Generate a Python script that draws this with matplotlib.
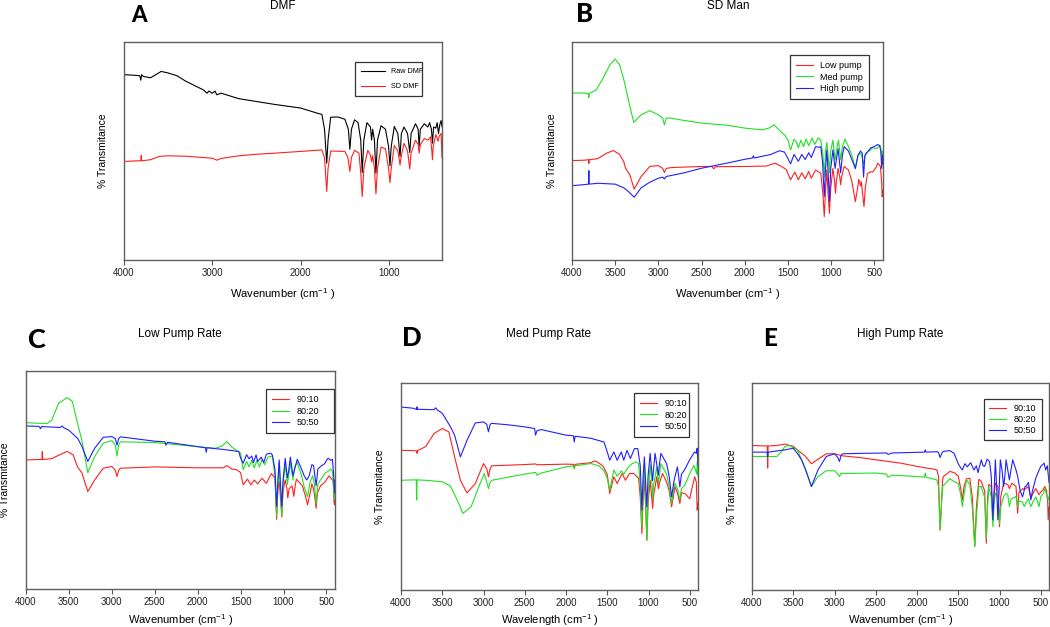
import matplotlib.pyplot as plt

# Spectra: (wavenumber, relative transmittance 0-100 of panel height)
raw_dmf = [(4000, 85), (3900, 84.8), (3820, 84.5), (3810, 82.5), (3800, 85), (3780, 84.2), (3700, 83.6),
           (3640, 85), (3580, 86.5), (3500, 85.8), (3400, 84.5), (3300, 82), (3200, 80), (3100, 78),
           (3060, 76.5), (3040, 77.5), (3000, 76.5), (2970, 77.5), (2950, 75.8), (2900, 76.5), (2700, 74),
           (2500, 72.7), (2300, 71.4), (2000, 69.7), (1800, 67.2), (1760, 66.8), (1730, 60), (1705, 44.4),
           (1690, 55), (1660, 65.5), (1580, 65.6), (1500, 64.6), (1460, 60), (1443, 50.8), (1425, 60),
           (1390, 64.3), (1350, 63), (1320, 55), (1303, 40.1), (1285, 55), (1250, 63), (1210, 61),
           (1197, 55), (1185, 60), (1165, 55), (1148, 39.8), (1130, 55), (1090, 61.6), (1040, 60),
           (1005, 52), (989, 43.2), (975, 52), (940, 61.3), (900, 58), (875, 47.5), (860, 58), (830, 61),
           (790, 58), (765, 49.3), (750, 58), (700, 62.5), (670, 60), (659, 52), (645, 60), (600, 62.5),
           (560, 61), (540, 63), (520, 60), (508, 53.6), (495, 61), (470, 60.5), (455, 63), (440, 58),
           (425, 62), (410, 64), (400, 61)]
sd_dmf = [(4000, 45.2), (3850, 45.5), (3810, 45.5), (3805, 48), (3800, 45.5), (3700, 46), (3600, 47.5),
          (3500, 47.8), (3300, 47.6), (3100, 47), (3000, 46.7), (2950, 45.8), (2900, 46.6), (2700, 47.8),
          (2500, 48.5), (2300, 49), (2000, 49.8), (1760, 50.5), (1730, 47), (1705, 31.4), (1690, 42),
          (1660, 50), (1500, 49.8), (1465, 47), (1443, 40.6), (1425, 47), (1390, 50.3), (1340, 49),
          (1320, 40), (1303, 29.1), (1285, 42), (1240, 50.3), (1210, 48), (1197, 45), (1185, 48),
          (1165, 42), (1148, 30.3), (1130, 42), (1090, 51.8), (1040, 51), (1005, 42), (989, 35.5),
          (975, 42), (940, 52.5), (900, 50), (875, 43.6), (860, 48), (830, 53.5), (790, 50), (765, 41.8),
          (750, 49), (700, 55), (670, 53), (659, 49), (645, 53), (600, 55.7), (560, 55), (530, 56.5),
          (515, 50), (508, 46), (500, 52), (470, 57.5), (455, 56), (445, 54.5), (430, 57), (410, 58),
          (400, 47)]

man_low = [(4000, 45.6), (3850, 45.8), (3810, 46), (3805, 44.3), (3800, 46), (3700, 46.5), (3600, 49),
           (3520, 50.2), (3450, 48.5), (3400, 45), (3380, 42.1), (3330, 39), (3280, 32.5), (3200, 38.3),
           (3100, 42.9), (3000, 43.3), (2950, 42), (2930, 40.1), (2910, 42), (2850, 42.4), (2500, 42.9),
           (2380, 42.9), (2360, 41.8), (2340, 42.8), (2000, 42.9), (1750, 43.1), (1650, 44.4), (1580, 43),
           (1520, 41.5), (1470, 36.8), (1420, 40.3), (1380, 36.8), (1340, 40), (1300, 37.2), (1260, 40.6),
           (1230, 37.5), (1180, 41.3), (1120, 39.8), (1095, 30), (1080, 19.9), (1065, 32), (1050, 41.3),
           (1035, 30), (1020, 21.4), (1005, 33), (980, 42), (960, 36), (950, 30.6), (940, 36), (920, 42),
           (900, 38), (890, 34.5), (880, 38), (850, 42.9), (800, 41.3), (760, 36), (720, 26.8), (690, 34),
           (680, 37), (660, 34), (650, 35.9), (635, 30), (620, 24.5), (605, 33), (580, 39.6), (540, 40.5),
           (520, 40.3), (480, 42.5), (460, 44.4), (430, 43), (415, 35), (410, 29), (400, 32)]
man_med = [(4000, 76.6), (3850, 76.6), (3810, 76.2), (3805, 74.5), (3800, 76.4), (3720, 78), (3650, 82.7),
           (3560, 89.6), (3500, 92.2), (3450, 89.6), (3400, 82.7), (3330, 70.4), (3285, 63.1), (3200, 66.6),
           (3100, 68.5), (3000, 66.6), (2950, 65), (2930, 62), (2910, 65), (2880, 65.2), (2700, 64),
           (2500, 62.8), (2200, 61.8), (2000, 60.5), (1800, 59.7), (1720, 60.5), (1660, 62), (1600, 59.5),
           (1540, 57.4), (1500, 55.1), (1470, 50.5), (1430, 55.4), (1400, 54), (1380, 51.5), (1350, 55),
           (1320, 52), (1290, 55.5), (1260, 52.5), (1220, 56), (1190, 53), (1150, 56), (1120, 55),
           (1095, 48), (1080, 38), (1065, 50), (1050, 54), (1035, 48), (1020, 40), (1005, 50), (980, 55),
           (955, 46), (940, 50), (915, 55), (890, 46), (870, 52), (840, 55.5), (800, 52), (760, 48),
           (720, 42), (690, 48), (660, 49), (640, 47), (625, 44), (600, 49), (560, 50), (520, 51.5),
           (480, 51), (450, 52), (430, 52.5), (415, 47), (405, 50), (400, 45)]
man_high = [(4000, 34.1), (3850, 34.6), (3810, 34.8), (3805, 41), (3800, 34.8), (3700, 35.2), (3500, 34.8),
            (3400, 33.1), (3350, 31.5), (3280, 28.8), (3200, 33.1), (3100, 35.7), (3000, 37.5), (2950, 38),
            (2930, 37.2), (2910, 38.3), (2700, 40), (2500, 42.1), (2200, 44.5), (2000, 46.2), (1910, 46.8),
            (1900, 47.8), (1890, 46.8), (1700, 48.4), (1600, 50.1), (1540, 49.5), (1500, 46.5), (1470, 44.1),
            (1430, 48.4), (1380, 45.3), (1340, 48.4), (1300, 46.1), (1260, 49.2), (1230, 47), (1180, 52),
            (1140, 51.7), (1120, 52), (1100, 45), (1080, 29.1), (1065, 42), (1050, 50.5), (1035, 40),
            (1020, 27), (1005, 42), (980, 50.5), (955, 42), (940, 46), (920, 51), (890, 40), (870, 48),
            (850, 52), (800, 50), (760, 46), (720, 42), (690, 48), (660, 50), (640, 49), (625, 38),
            (610, 48), (580, 49.5), (540, 51.5), (500, 52), (460, 53), (440, 52.5), (425, 50), (415, 42),
            (405, 48), (400, 44)]

low_9010 = [(4000, 59.2), (3850, 59.4), (3815, 59.4), (3810, 63), (3805, 59.4), (3700, 59.8), (3600, 61.7),
            (3520, 63.1), (3450, 61.5), (3400, 56), (3350, 53.4), (3280, 44.7), (3200, 50), (3100, 55.4),
            (3000, 56.2), (2960, 54.5), (2940, 51.6), (2920, 54.5), (2900, 55.4), (2500, 56), (2000, 55.6),
            (1700, 55.6), (1660, 56.6), (1600, 55), (1550, 54.8), (1500, 53.4), (1470, 47.8), (1420, 50.4),
            (1380, 47.8), (1340, 50), (1300, 48.2), (1250, 50.8), (1200, 48.5), (1140, 53), (1100, 50.8),
            (1080, 32), (1065, 46), (1050, 49.3), (1035, 42), (1020, 33), (1005, 45), (980, 50), (960, 46),
            (950, 41.7), (935, 46), (900, 47.3), (880, 42.5), (865, 47), (850, 50.4), (780, 47.3), (740, 42),
            (720, 38.6), (690, 44), (670, 48.2), (650, 46), (635, 42), (620, 37), (605, 44), (570, 47.3),
            (520, 48.9), (470, 51.9), (430, 50), (420, 49.6), (412, 40), (405, 38.6), (400, 43)]
low_8020 = [(4000, 76.3), (3850, 76), (3750, 76), (3700, 77.5), (3620, 85.2), (3520, 87.8), (3460, 86),
            (3400, 76), (3350, 68.4), (3280, 53.4), (3200, 60.8), (3100, 66.9), (3000, 68.1), (2960, 66),
            (2940, 61), (2920, 66), (2900, 67.5), (2500, 67.2), (2000, 65.3), (1800, 64.5), (1720, 65.5),
            (1660, 67.6), (1600, 65), (1540, 63.5), (1500, 62.3), (1470, 54.7), (1430, 58.5), (1400, 56),
            (1370, 59), (1340, 55.5), (1310, 59), (1280, 56), (1250, 59.5), (1220, 57), (1180, 60.5),
            (1130, 61), (1100, 52), (1080, 33.3), (1065, 48), (1050, 58), (1035, 45), (1020, 33.5),
            (1005, 48), (980, 57), (955, 48), (940, 52), (920, 58), (890, 50), (870, 56), (840, 58),
            (790, 52), (760, 47), (720, 42.4), (690, 49), (660, 52), (640, 48), (620, 39), (600, 48),
            (570, 50), (550, 51), (520, 53), (480, 54), (450, 55), (430, 54), (415, 45), (405, 41), (400, 43)]
low_5050 = [(4000, 74.8), (3850, 74.6), (3830, 73.5), (3820, 74.5), (3600, 74.1), (3580, 74.8), (3560, 74),
            (3500, 72.8), (3400, 69.2), (3350, 65.6), (3280, 58.5), (3200, 64.6), (3100, 69.6), (3000, 69.9),
            (2960, 69), (2940, 66), (2920, 69), (2900, 69.8), (2500, 67.8), (2380, 67.5), (2370, 66),
            (2350, 67.3), (2000, 65.3), (1910, 64.8), (1900, 62.7), (1890, 64.8), (1700, 64), (1600, 63.5),
            (1520, 63), (1500, 60), (1470, 57.7), (1430, 61.6), (1400, 59.7), (1370, 61), (1350, 58),
            (1320, 61.5), (1300, 58.5), (1260, 60.5), (1230, 58), (1200, 61.8), (1150, 62.3), (1130, 61.5),
            (1100, 55), (1080, 37.9), (1065, 50), (1050, 59.2), (1035, 48), (1020, 37.9), (1005, 50),
            (980, 59.9), (955, 51), (940, 54), (920, 60.5), (890, 52), (870, 55), (840, 59.5), (800, 56),
            (760, 52), (730, 50), (700, 52), (670, 57), (650, 56.7), (635, 52), (620, 47.3), (600, 55),
            (560, 56.5), (520, 57.5), (500, 59), (480, 60), (450, 59), (430, 59.5), (415, 52), (405, 44),
            (400, 50)]

med_9010 = [(4000, 67.5), (3850, 67.3), (3810, 67.2), (3805, 66), (3800, 67.3), (3700, 69.3), (3600, 75.6),
            (3500, 78), (3420, 76.4), (3350, 64.3), (3280, 53), (3200, 46.9), (3100, 51.4), (3000, 61.1),
            (2960, 58.5), (2940, 54.7), (2920, 58.5), (2900, 60), (2500, 60.6), (2370, 60.9), (2350, 60.5),
            (2000, 60.8), (1910, 60.7), (1900, 59), (1890, 60.7), (1700, 61.5), (1650, 62.4), (1600, 61.3),
            (1550, 59.8), (1500, 55.8), (1470, 46.6), (1420, 54.7), (1380, 51.4), (1320, 56.3), (1280, 53),
            (1230, 56.3), (1180, 56.3), (1120, 54), (1100, 45), (1080, 27.3), (1065, 45), (1050, 53),
            (1035, 40), (1020, 24.1), (1005, 42), (980, 53), (955, 42), (950, 39.5), (940, 45), (900, 54.7),
            (880, 49), (865, 52), (830, 56.3), (780, 52), (750, 48), (720, 40.2), (690, 47), (680, 50),
            (650, 47), (620, 41.8), (600, 47), (560, 46.6), (500, 44.1), (480, 48), (440, 54.7), (420, 52),
            (410, 38.6), (400, 42)]
med_8020 = [(4000, 53), (3850, 53.2), (3815, 53.2), (3810, 43.5), (3805, 53.2), (3700, 53), (3500, 52.3),
            (3400, 50.2), (3300, 41.8), (3250, 37), (3150, 40.2), (3050, 50.6), (2990, 56.3), (2960, 52),
            (2940, 49), (2920, 52), (2900, 53), (2700, 54.5), (2500, 56), (2370, 56.8), (2350, 55.5),
            (2300, 56.5), (2000, 59.5), (1910, 60), (1900, 58.5), (1890, 60), (1700, 61.1), (1600, 60),
            (1540, 57.5), (1500, 54), (1470, 48.2), (1420, 58), (1380, 55), (1330, 57.5), (1300, 56),
            (1250, 59), (1200, 61), (1150, 61.9), (1120, 61), (1100, 50), (1080, 30.5), (1065, 48),
            (1050, 59.5), (1035, 45), (1020, 24.1), (1005, 45), (980, 60.5), (955, 50), (950, 43.7),
            (940, 50), (900, 59.5), (880, 51.5), (865, 56), (850, 61), (780, 56), (750, 50), (720, 41.8),
            (690, 50), (680, 51.5), (650, 49), (620, 43.7), (600, 49), (560, 50.6), (500, 56.2), (450, 60.2),
            (430, 58), (415, 56), (410, 62), (400, 55)]
med_5050 = [(4000, 88.4), (3850, 87.8), (3810, 87.2), (3805, 88.5), (3800, 87.3), (3600, 87.1), (3580, 88),
            (3560, 87), (3500, 85.4), (3400, 78.8), (3350, 74.8), (3280, 64.3), (3200, 72.3), (3100, 80.7),
            (3000, 81.2), (2960, 80), (2940, 76.4), (2920, 80), (2900, 80.5), (2700, 79.8), (2500, 78.8),
            (2380, 78), (2370, 74.8), (2350, 77), (2300, 77.5), (2000, 74.8), (1910, 74.5), (1900, 71.5),
            (1890, 74.3), (1700, 73.3), (1540, 71.5), (1500, 66.7), (1470, 62.7), (1420, 66.7), (1380, 62.7),
            (1330, 66.7), (1300, 62.7), (1260, 67.5), (1220, 63.5), (1170, 68.3), (1130, 68.3), (1100, 60),
            (1080, 38.6), (1065, 55), (1050, 64.3), (1035, 52), (1020, 40.2), (1005, 55), (980, 66),
            (955, 55), (950, 53), (940, 58), (920, 66), (890, 58), (880, 55.5), (870, 60), (850, 66),
            (780, 61), (750, 55), (720, 45), (690, 53), (650, 59.5), (635, 55), (620, 49.8), (600, 56),
            (560, 58.2), (500, 63), (440, 66.7), (420, 66), (410, 68.5), (400, 60)]

high_9010 = [(4000, 69.8), (3850, 69.6), (3815, 69.6), (3810, 58.9), (3805, 69.6), (3700, 69.8), (3600, 70.5),
             (3500, 69.4), (3400, 66.1), (3350, 64.5), (3280, 61), (3200, 63.2), (3100, 65.8), (3000, 65.8),
             (2900, 64.8), (2700, 64), (2500, 62.9), (2200, 61.3), (2000, 59.7), (1800, 58.4), (1760, 58),
             (1740, 55), (1720, 29), (1705, 40), (1690, 53), (1680, 54.8), (1600, 57.3), (1540, 56.5),
             (1500, 55), (1470, 49), (1450, 43.5), (1430, 50), (1400, 53.7), (1360, 54), (1330, 45),
             (1300, 21), (1280, 40), (1250, 53.5), (1220, 52.5), (1200, 50), (1180, 48), (1160, 22.6),
             (1145, 44), (1130, 51), (1100, 50), (1080, 33.9), (1065, 46), (1050, 51.6), (1020, 50),
             (1000, 30.6), (985, 45), (950, 51.6), (900, 51), (880, 49), (850, 51.6), (800, 50), (780, 37),
             (765, 47), (720, 49), (700, 48.5), (680, 49), (650, 50), (620, 44.4), (590, 47), (560, 49),
             (520, 46), (500, 47.3), (470, 48.5), (450, 50), (430, 48), (415, 42), (410, 33.9), (400, 40)]
high_8020 = [(4000, 64.5), (3850, 64.5), (3815, 64.5), (3810, 66.5), (3805, 64.5), (3700, 64.5), (3650, 66.5),
             (3600, 69.4), (3550, 69.8), (3450, 67.7), (3380, 61.3), (3330, 56), (3280, 50), (3200, 54.8),
             (3100, 57.6), (3000, 57.6), (2960, 56), (2940, 54.8), (2920, 56.5), (2900, 56.3), (2500, 56.5),
             (2370, 56), (2350, 54.5), (2300, 55.5), (2000, 54.8), (1910, 54.5), (1900, 56.5), (1890, 54.5),
             (1760, 53.2), (1740, 50), (1720, 29), (1705, 40), (1690, 50), (1680, 50.5), (1600, 53.8),
             (1540, 52), (1500, 51.6), (1470, 46), (1450, 40.3), (1430, 46), (1400, 53.2), (1360, 51),
             (1330, 40), (1300, 21), (1280, 35), (1250, 50), (1220, 50), (1200, 47), (1180, 45), (1160, 25),
             (1145, 40), (1130, 50), (1100, 45), (1080, 30.6), (1065, 42), (1050, 46.8), (1020, 45),
             (1000, 32), (985, 40), (950, 45.2), (920, 46.8), (900, 46), (880, 40.3), (860, 44), (800, 45.2),
             (780, 40.3), (765, 43), (720, 42.5), (700, 40.3), (680, 42), (650, 44), (620, 40.3), (590, 43),
             (560, 45), (520, 40.3), (500, 45), (470, 46.5), (450, 49), (430, 46), (410, 43.5), (400, 45)]
high_5050 = [(4000, 66.6), (3850, 66.6), (3815, 66.6), (3810, 64.5), (3805, 66.6), (3600, 67.7), (3500, 68.5),
             (3450, 66), (3400, 62.9), (3350, 58), (3280, 50), (3200, 58), (3100, 64.5), (3000, 65.8),
             (2960, 64), (2940, 62.1), (2920, 65), (2900, 65.8), (2700, 66), (2500, 66.1), (2370, 66.2),
             (2350, 65.5), (2300, 66.2), (2000, 66.5), (1910, 66.6), (1900, 67.7), (1890, 66.6), (1760, 66.8),
             (1740, 66.5), (1720, 64), (1700, 66), (1680, 67), (1600, 67.3), (1550, 66), (1500, 61),
             (1470, 59), (1450, 58), (1420, 61), (1390, 59.5), (1350, 61.5), (1310, 58), (1280, 60),
             (1260, 56.7), (1240, 60), (1220, 62.9), (1200, 60), (1180, 59.7), (1150, 63.2), (1120, 62),
             (1100, 55), (1080, 33.9), (1065, 48), (1050, 62.9), (1035, 50), (1020, 33.9), (1005, 48),
             (990, 62.9), (970, 58), (950, 50), (935, 55), (920, 62.9), (900, 58), (880, 53.2), (865, 57),
             (840, 62.9), (800, 58), (780, 55), (750, 48), (720, 45), (690, 50), (680, 50), (650, 52),
             (620, 43.5), (600, 48), (560, 54), (530, 57), (500, 59.7), (480, 60.5), (460, 61.3), (440, 58),
             (420, 60), (410, 56), (400, 52)]

RED, GREEN, BLUE = '#ff2020', '#22e022', '#2020ff'
W, H = 1050, 627

plt.rcParams['font.family'] = ['Liberation Sans', 'DejaVu Sans']
plt.rcParams['mathtext.fontset'] = 'custom'
plt.rcParams['mathtext.rm'] = 'Liberation Sans'
plt.rcParams['mathtext.it'] = 'Liberation Sans'

fig = plt.figure(figsize=(10.5, 6.27), dpi=100)


def panel(px, letter, lsize, lpos, title, tpos, series, xlabel, ticks, leg, ylab_x, xlab_y,
          legsize=6.5, legpad=0.65, legspace=0.3, handlelen=1.9):
    x0, y0, x1, y1 = px
    ax = fig.add_axes([x0 / W, 1 - y1 / H, (x1 - x0) / W, (y1 - y0) / H])
    for data, color, label in series:
        wn, t = zip(*data)
        ax.plot(wn, t, color=color, lw=0.8, label=label)
    ax.set_xlim(4000, 400)
    ax.set_ylim(0, 100)
    ax.set_xticks(ticks)
    ax.set_yticks([])
    ax.tick_params(axis='x', direction='out', length=3.5, width=0.8, color='#555555',
                   labelsize=7, labelcolor='#222222', pad=2)
    for s in ax.spines.values():
        s.set_color('#606060')
        s.set_linewidth(1.0)
    ax.set_xlabel(xlabel, fontsize=8)
    ax.set_ylabel('% Transmitance', fontsize=7.5)
    ax.xaxis.set_label_coords(0.5, xlab_y)
    ax.yaxis.set_label_coords(ylab_x, 0.5)
    lx, ltop, lw = leg
    lg = ax.legend(loc='upper left', bbox_to_anchor=(lx, ltop - 0.1, lw, 0.1), mode='expand',
                   borderaxespad=0, fontsize=legsize, fancybox=False, framealpha=1,
                   edgecolor='#333333', handlelength=handlelen, borderpad=legpad,
                   labelspacing=legspace, handletextpad=0.8)
    lg.get_frame().set_linewidth(0.9)
    fig.text(lpos[0] / W, 1 - lpos[1] / H, letter, fontsize=lsize, fontweight='black',
             family='Lato', ha='center', va='center')
    fig.text(tpos[0] / W, 1 - tpos[1] / H, title, fontsize=8.5, ha='center', va='center')
    return ax


wn_label = 'Wavenumber (cm$^{-1}$ )'
ticks500 = [4000, 3500, 3000, 2500, 2000, 1500, 1000, 500]

panel((124, 42, 442, 260), 'A', 16, (139, 15), 'DMF', (283, 6),
      [(raw_dmf, 'black', 'Raw DMF'), (sd_dmf, RED, 'SD DMF')],
      wn_label, [4000, 3000, 2000, 1000], (0.726, 0.908, 0.211), -0.05, -0.12,
      legsize=5.2, legpad=0.85, legspace=1.1, handlelen=3.3)
panel((572, 42, 883, 260), 'B', 18.5, (585, 14), 'SD Man', (728, 6),
      [(man_low, RED, 'Low pump'), (man_med, GREEN, 'Med pump'), (man_high, BLUE, 'High pump')],
      wn_label, ticks500, (0.701, 0.94, 0.254), -0.048, -0.12)
panel((26, 371, 335, 589), 'C', 19.5, (36, 340), 'Low Pump Rate', (180, 334),
      [(low_9010, RED, '90:10'), (low_8020, GREEN, '80:20'), (low_5050, BLUE, '50:50')],
      wn_label, ticks500, (0.777, 0.917, 0.22), -0.052, -0.106)
panel((401, 383, 698, 590), 'D', 18.5, (412, 338), 'Med Pump Rate', (549, 334),
      [(med_9010, RED, '90:10'), (med_8020, GREEN, '80:20'), (med_5050, BLUE, '50:50')],
      'Wavelength (cm$^{-1}$ )', ticks500, (0.785, 0.952, 0.185), -0.054, -0.106)
panel((752, 383, 1049, 590), 'E', 17.5, (770, 338), 'High Pump Rate', (900, 334),
      [(high_9010, RED, '90:10'), (high_8020, GREEN, '80:20'), (high_5050, BLUE, '50:50')],
      wn_label, ticks500, (0.781, 0.923, 0.195), -0.05, -0.106, legpad=0.55, legspace=0.25)

fig.savefig('out.png', dpi=100, facecolor='white')
